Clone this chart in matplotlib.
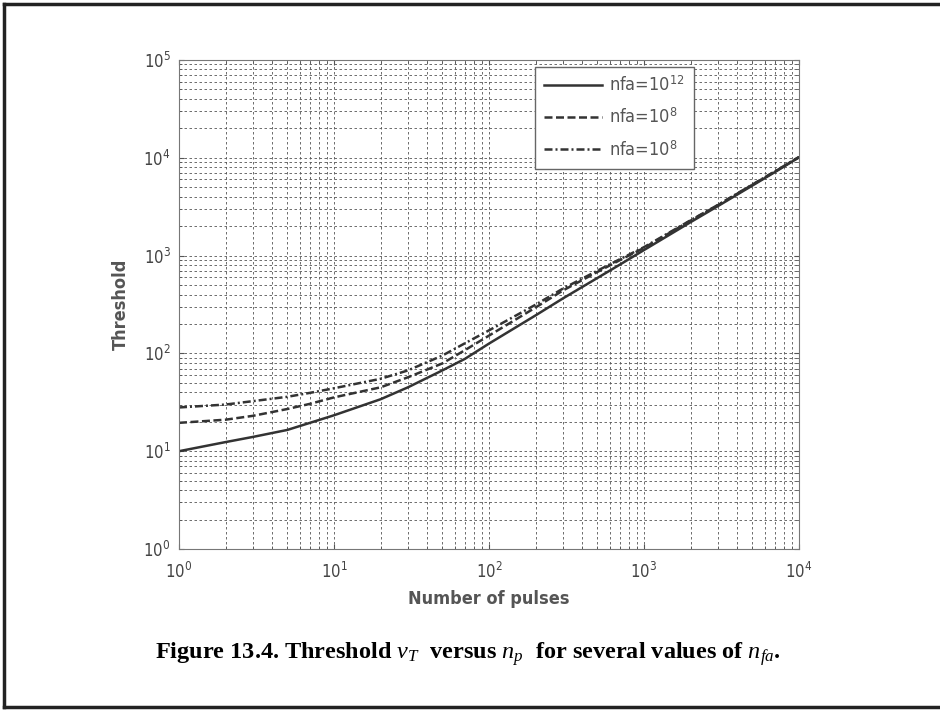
import numpy as np
import matplotlib.pyplot as plt
from matplotlib.lines import Line2D

# number of pulses
n_p = [1, 2, 3, 5, 7, 10, 20, 30, 50, 70, 100, 200, 300, 500, 700,
       1000, 2000, 3000, 5000, 7000, 10000]

# thresholds
thr_solid = [10, 12.4, 14, 16.5, 19.5, 23.3, 34, 45, 67, 88, 126, 245, 365, 590, 810,
             1140, 2200, 3210, 5200, 7150, 10100]
thr_dash = [19.5, 21, 23, 27, 30.5, 35.5, 45, 57, 79, 108, 152, 295, 440, 680, 900,
            1200, 2280, 3280, 5300, 7250, 10150]
thr_dashdot = [28, 30, 32.5, 36, 39.5, 44, 55, 67, 95, 127, 172, 315, 460, 700, 920,
               1220, 2300, 3300, 5320, 7280, 10200]

labels = [r'nfa=10$^{12}$', r'nfa=10$^{8}$', r'nfa=10$^{8}$']

narrow = 'DejaVu Sans'
plt.rcParams['font.stretch'] = 'condensed'
plt.rcParams['mathtext.fontset'] = 'custom'
plt.rcParams['mathtext.rm'] = 'DejaVu Sans'
plt.rcParams['mathtext.it'] = 'Liberation Serif:italic'

fig = plt.figure(figsize=(9.4, 7.1), dpi=100)
ax = fig.add_axes([179/940, 1 - 549/710, 620/940, 489/710])

c = '#333333'
ax.loglog(n_p, thr_solid, '-', color=c, lw=1.8, label=labels[0])
ax.loglog(n_p, thr_dash, '--', color=c, lw=1.8, dashes=(3.2, 1.4), label=labels[1])
ax.loglog(n_p, thr_dashdot, '-.', color=c, lw=1.8, dashes=(3.2, 1.2, 0.8, 1.2), label=labels[2])

ax.set_xlim(1, 1e4)
ax.set_ylim(1, 1e5)
ax.grid(True, which='both', color='#555555', lw=0.6, ls=(0, (3, 3)))
ax.tick_params(which='both', direction='in', top=True, right=True, colors='#555555',
               labelcolor='#444444', labelsize=12)
ax.tick_params(axis='x', pad=9)
ax.tick_params(axis='y', pad=6)
for s in ax.spines.values():
    s.set_color('#777777')

ax.set_xlabel('Number of pulses', family=narrow, fontweight='bold', fontsize=13,
              color='#555555', labelpad=6)
ax.set_ylabel('Threshold', family=narrow, fontweight='bold', fontsize=13,
              color='#555555', labelpad=10)

leg = ax.legend(loc='upper right', bbox_to_anchor=(694/940, 1 - 67/710),
                bbox_transform=fig.transFigure, fancybox=False, framealpha=1,
                edgecolor='#666666', handlelength=3.2, handletextpad=0.4,
                labelspacing=0.7, borderpad=0.5, borderaxespad=0,
                prop={'family': narrow, 'size': 13})
for t in leg.get_texts():
    t.set_color('#555555')

fig.text(468/940, 1 - 654/710,
         r'Figure 13.4. Threshold $v_T$  versus $n_p$  for several values of $n_{fa}$.',
         ha='center', va='center', family='Liberation Serif', fontweight='bold',
         fontsize=17.5, stretch='normal')

# page frame (top, left, bottom)
fig.add_artist(Line2D([4/940, 1], [1 - 4/710, 1 - 4/710], transform=fig.transFigure,
                      color='#222222', lw=2.5))
fig.add_artist(Line2D([4/940, 4/940], [3/710, 1 - 4/710], transform=fig.transFigure,
                      color='#222222', lw=2.5))
fig.add_artist(Line2D([4/940, 1], [3/710, 3/710], transform=fig.transFigure,
                      color='#222222', lw=2.5))

fig.savefig('out.png', dpi=100)
